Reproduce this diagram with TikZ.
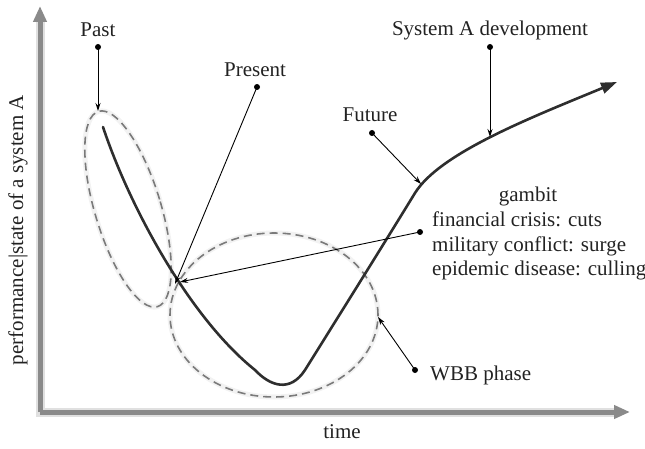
\documentclass[tikz,border=0pt]{standalone}
\usepackage{fontspec}
\setmainfont{Liberation Serif}
\usetikzlibrary{arrows.meta}
\definecolor{axisgray}{HTML}{8A8A8A}
\definecolor{dashgray}{HTML}{7A7A7A}
\definecolor{curvecol}{HTML}{2E2E2E}
\definecolor{txt}{HTML}{222222}
\begin{document}
\begin{tikzpicture}[x=1pt,y=1pt,
  lbl/.style={text=txt,font=\fontsize{21}{24.5}\selectfont,inner sep=0pt},
  dotnode/.style={circle,fill=black,inner sep=0pt,minimum size=6pt},
  conn/.style={draw=black,line width=0.9pt,-{Stealth[length=8pt,width=5pt]}},
  axisline/.style={draw=axisgray,line width=5pt,-{Triangle[length=16pt,width=13pt]}},
  axishalo/.style={draw=black!12,line width=9pt},
  phase/.style={draw=dashgray,line width=1.6pt,dash pattern=on 8pt off 5pt},
  phasehalo/.style={draw=black!5,line width=5pt},
  maincurve/.style={draw=curvecol,line width=2.6pt,line cap=round,-{Triangle[length=16pt,width=11pt]}}]
\useasboundingbox (0,0) rectangle (645,448);
% axes
\coordinate (origin) at (40,36);
\coordinate (ytip) at (40,442);
\coordinate (xtip) at (630,36);
\draw[axishalo] (40,428) -- (origin) -- (616,36);
\draw[axisline] (origin) -- (ytip);
\draw[axisline] (origin) -- (xtip);
\node[lbl,rotate=90] (ylab) at (18,218) {performance|state of a system A};
\node[lbl] (xlab) at (342,16) {time};
% phases
\draw[phasehalo,rotate around={16.8:(128,239)}] (128,239) ellipse [x radius=33, y radius=102];
\draw[phasehalo] (274,133) ellipse [x radius=104, y radius=82];
\draw[phase,rotate around={16.8:(128,239)}] (128,239) ellipse [x radius=33, y radius=102];
\draw[phase] (274,133) ellipse [x radius=104, y radius=82];
% main curve
\coordinate (cstart) at (103,321);
\coordinate (cleft) at (255,78);
\coordinate (cright) at (305,78);
\coordinate (cbend) at (415,255);
\coordinate (cend) at (617,366);
\draw[maincurve] (cstart) .. controls (130,240) and (190,130) .. (cleft)
  .. controls (270,62) and (290,55) .. (cright)
  .. controls (340,134) and (385,206) .. (cbend)
  .. controls (440,295) and (530,330) .. (cend);
% labels
\node[lbl] (past) at (98,418) {Past};
\node[dotnode] (pastdot) at (98,401) {};
\coordinate (pasttgt) at (98,337);
\draw[conn] (pastdot.center) -- (pasttgt);
\node[lbl] (present) at (255,378) {Present};
\node[dotnode] (presdot) at (257,361) {};
\coordinate (prestgt) at (175,164);
\draw[conn] (presdot.center) -- (prestgt);
\node[lbl] (future) at (370,333) {Future};
\node[dotnode] (futdot) at (372,315) {};
\coordinate (futtgt) at (421,264);
\draw[conn] (futdot.center) -- (futtgt);
\node[lbl] (sysa) at (490,418) {System A development};
\node[dotnode] (sysdot) at (490,401) {};
\coordinate (systgt) at (490,311);
\draw[conn] (sysdot.center) -- (systgt);
\node[lbl] (gambit) at (528,252) {gambit};
\node[lbl,anchor=west,align=left] (gambitlist) at (432,202) {financial crisis: cuts\\military conflict: surge\\epidemic disease: culling};
\node[dotnode] (gamdot) at (420,216) {};
\coordinate (gamtgt) at (180,166);
\draw[conn] (gamdot.center) -- (gamtgt);
\node[lbl,anchor=west] (wbb) at (430,73) {WBB phase};
\node[dotnode] (wbbdot) at (415,78) {};
\coordinate (wbbtgt) at (378,131);
\draw[conn] (wbbdot.center) -- (wbbtgt);
\end{tikzpicture}
\end{document}
